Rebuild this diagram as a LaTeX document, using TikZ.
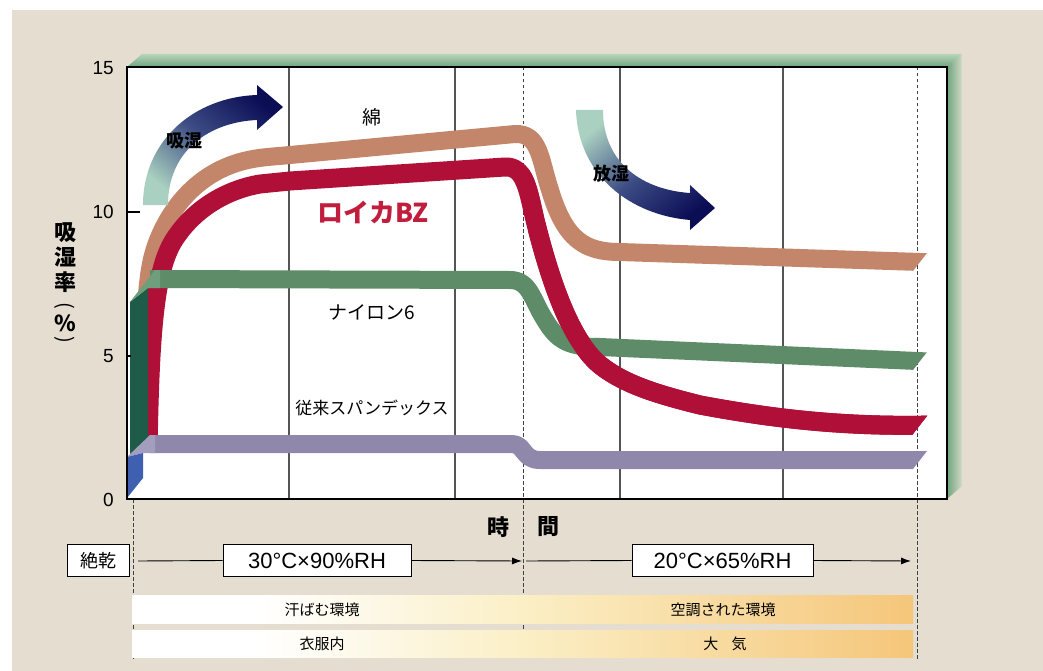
\documentclass[tikz,border=0pt]{standalone}
\usepackage{fontspec}
\setmainfont{Noto Sans CJK JP}
\newfontfamily\numfont{Liberation Sans}
\usetikzlibrary{arrows.meta}
\definecolor{bg}{HTML}{E5DDD0}
\definecolor{tanc}{HTML}{C4866A}
\definecolor{redc}{HTML}{B01038}
\definecolor{grnc}{HTML}{5E8C68}
\definecolor{grnd}{HTML}{1E5B48}
\definecolor{grnl}{HTML}{6E9E7C}
\definecolor{purc}{HTML}{8F88AA}
\definecolor{purl}{HTML}{A49EBE}
\definecolor{bluc}{HTML}{3F5FB0}
\definecolor{navyc}{HTML}{0B0D55}
\definecolor{arrmid}{HTML}{3C4C84}
\definecolor{arrlight}{HTML}{A9D0C0}
\definecolor{bevlight}{HTML}{B6D6BC}
\definecolor{bevdark}{HTML}{6FA47E}
\definecolor{barmid}{HTML}{FBEFC6}
\definecolor{barend}{HTML}{F5C67A}
\definecolor{bztext}{HTML}{C01E3C}
\definecolor{gridc}{HTML}{555555}
\pgfdeclarehorizontalshading{barshade}{100bp}{color(0bp)=(white); color(25bp)=(white); color(33bp)=(white); color(50bp)=(barmid); color(75bp)=(barend); color(100bp)=(barend)}
\def\redpathX{(148,452) .. controls (150,330) and (155,270) .. (174,240) .. controls (193,210) and (225,190) .. (260,184) -- (290,181) -- (505,167) .. controls (525,166) and (528,190) .. (535,220) .. controls (550,280) and (570,340) .. (600,365) .. controls (625,385) and (660,395) .. (700,405) .. controls (780,420) and (850,427) .. (935,425)}
\begin{document}
\begin{tikzpicture}[x=1pt,y=-1pt,
  band/.style={line width=18pt, line cap=butt, line join=round},
  gridline/.style={gridc, line width=1.1pt},
  dashline/.style={black!75, line width=1pt, dash pattern=on 3.5pt off 2.5pt},
  lbl/.style={inner sep=0pt, font=\fontsize{19}{19}\selectfont},
  axnum/.style={inner sep=0pt, anchor=east, font=\numfont\fontsize{19}{19}\selectfont},
  condbox/.style={draw, line width=0.8pt, fill=white, inner sep=0pt, minimum height=32pt},
  bartext/.style={inner sep=0pt, font=\fontsize{15}{15}\selectfont},
  conn/.style={line width=0.9pt},
  tip/.style={-{Latex[length=10pt,width=7pt]}}]
\useasboundingbox (0,0) rectangle (1043,671);
\fill[white] (0,0) rectangle (1043,671);
\fill[bg] (12,10) rectangle (1043,671);

% 3D bevel of the plot frame
\shade[top color=bevlight, bottom color=bevdark] (127,67) -- (142,54) -- (962,54) -- (947,67) -- cycle;
\shade[left color=bevdark, right color=bevlight!40!bg] (947,67) -- (962,54) -- (962,486) -- (947,499) -- cycle;

% plot area
\fill[white] (127,67) rectangle (947,499);
\foreach \gx in {289,455,620,783} \draw[gridline] (\gx,67) -- (\gx,499);
\draw[dashline] (523,67) -- (523,629);
\draw[dashline] (917,67) -- (917,660);
\draw[dashline] (133,499) -- (133,660);

% cotton
\begin{scope}
\clip (0,-38) -- (1154,-38) -- (686,562) -- (0,562) -- cycle;
\draw[band, tanc] (147,295) .. controls (149,270) and (152,255) .. (158,240) .. controls (170,210) and (195,175) .. (240,162) .. controls (258,157) and (270,157) .. (290,155) -- (515,134) .. controls (540,133) and (540,160) .. (550,190) .. controls (565,240) and (585,252) .. (620,252) -- (935,262.5);
\end{scope}
% roica BZ (whole)
\begin{scope}
\clip (0,125) -- (1154,125) -- (686,725) -- (0,725) -- cycle;
\draw[band, line width=19pt, redc] \redpathX;
\end{scope}
% nylon 6
\begin{scope}
\clip (0,61) -- (1154,61) -- (686,661) -- (0,661) -- cycle;
\draw[band, grnc] (150,279) -- (510,280) .. controls (530,280) and (532,300) .. (545,320) .. controls (558,342) and (570,347) .. (600,347) -- (935,361.8);
\end{scope}
\fill[grnd] (130,302) -- (148,288) -- (148,440) -- (130,456) -- cycle;
\fill[grnl] (130,302) -- (155,270) -- (160,270) -- (160,288) -- (148,288) -- cycle;
% roica BZ over nylon on the right
\begin{scope}
\clip (0,125) -- (1154,125) -- (686,725) -- (0,725) -- cycle;
\clip (528,0) rectangle (1043,671);
\draw[band, line width=19pt, redc] \redpathX;
\end{scope}
% conventional spandex
\begin{scope}
\clip (0,160) -- (1154,160) -- (686,760) -- (0,760) -- cycle;
\draw[band, purc] (150,444) -- (512,444) .. controls (525,444) and (522,460) .. (540,460) -- (935,460);
\end{scope}
\fill[purl] (127,457) -- (150,435) -- (155,435) -- (155,453) -- (143,453) -- cycle;
\fill[bluc] (127,457) -- (143,453) -- (143,478) -- (127,498) -- cycle;

% frame
\draw[line width=2.2pt] (127,67) rectangle (947,499);
\draw[line width=1.2pt] (127,212) -- (140,212);
\draw[line width=1.2pt] (127,356) -- (131,356);

% moisture arrows
\shade[top color=navyc, bottom color=arrlight, middle color=arrmid, shading angle=-40]
  (143,205) .. controls (143,140) and (195,97) .. (257,95) -- (257,85) -- (283,107) -- (257,130) -- (257,120) .. controls (210,122) and (168,150) .. (168,205) -- cycle;
\shade[top color=arrlight, bottom color=navyc, middle color=arrmid, shading angle=40]
  (576,110) .. controls (578,175) and (630,215) .. (690,220) -- (690,230) -- (715,208) -- (690,185) -- (690,193) .. controls (645,190) and (603,165) .. (603,110) -- cycle;
\node[lbl, font=\bfseries\fontsize{18}{18}\selectfont] (kyu) at (184,141) {吸湿};
\node[lbl, font=\bfseries\fontsize{18}{18}\selectfont] (ho) at (611,174) {放湿};

% curve labels
\node[lbl] (men) at (372,117) {綿};
\node[lbl, text=bztext, font=\bfseries\fontsize{26}{26}\selectfont] (bz) at (373,212) {ロイカBZ};
\node[lbl] (ny) at (372,312) {ナイロン6};
\node[lbl, font=\fontsize{17}{17}\selectfont] (sp) at (372,408) {従来スパンデックス};

% axis numbers
\node[axnum] (y15) at (114,68) {15};
\node[axnum] (y10) at (114,212) {10};
\node[axnum] (y5) at (114,356) {5};
\node[axnum] (y0) at (114,500) {0};

% y axis title
\begin{scope}[every node/.style={inner sep=0pt, font=\bfseries\fontsize{22}{22}\selectfont}]
\node (ya) at (65,233) {吸};
\node (yb) at (65,257) {湿};
\node (yc) at (65,282) {率};
\node[rotate=-90, font=\fontsize{20}{20}\selectfont] (yd) at (65,306) {(};
\node (ye) at (65,323) {\%};
\node[rotate=-90, font=\fontsize{20}{20}\selectfont] (yf) at (65,340) {)};
\node (xa) at (498,527) {時};
\node (xb) at (548,527) {間};
\end{scope}

% condition row
\node[condbox, minimum width=62pt, font=\fontsize{18}{18}\selectfont] (zk) at (98,560.5) {絶乾};
\node[condbox, minimum width=188pt, font=\numfont\fontsize{22}{22}\selectfont] (c1) at (317,560.5) {30°C×90\%RH};
\node[condbox, minimum width=181pt, font=\numfont\fontsize{22}{22}\selectfont] (c2) at (722.5,560.5) {20°C×65\%RH};
\coordinate (s1) at (138,561);
\coordinate (e1) at (522,561);
\coordinate (s2) at (526,561);
\coordinate (e2) at (911,561);
\draw[conn] (s1) -- (c1.west);
\draw[conn, tip] (c1.east) -- (e1);
\draw[conn] (s2) -- (c2.west);
\draw[conn, tip] (c2.east) -- (e2);

% environment bars
\shade[shading=barshade] (132,595) rectangle (913,623);
\shade[shading=barshade] (132,630) rectangle (913,657);
\node[bartext] (b1) at (322,610) {汗ばむ環境};
\node[bartext] (b2) at (723,610) {空調された環境};
\node[bartext] (b3) at (322,644) {衣服内};
\node[bartext] (b4) at (725,644) {大\hspace{0.9em}気};
\end{tikzpicture}
\end{document}
